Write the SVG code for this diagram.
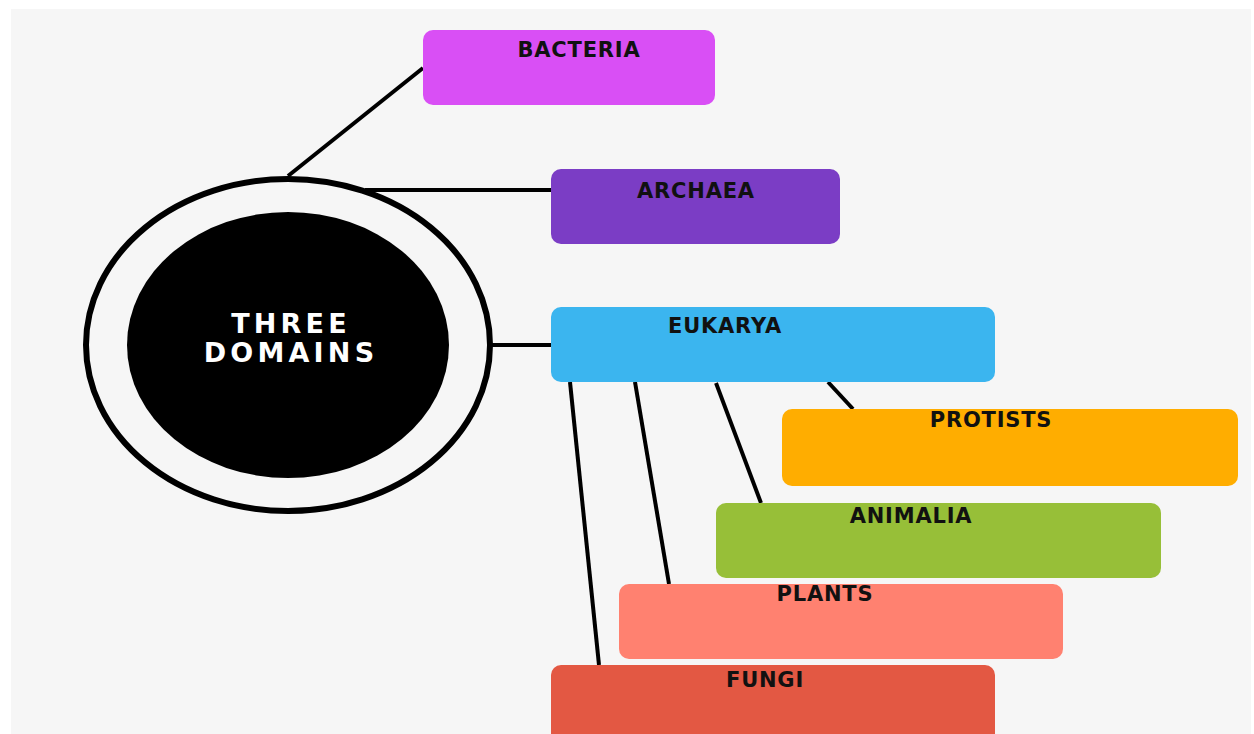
<svg xmlns="http://www.w3.org/2000/svg" width="1254" height="734" viewBox="0 0 1254 734">
<style>
.lbl{font-family:"DejaVu Sans","Liberation Sans",Arial,sans-serif;font-weight:bold;font-size:21px;letter-spacing:0.8px;fill:#111;text-anchor:middle}
.ttl{font-family:"DejaVu Sans","Liberation Sans",Arial,sans-serif;font-weight:bold;font-size:27px;letter-spacing:4.2px;fill:#fff;text-anchor:middle}
.ln{stroke:#000;stroke-width:4;fill:none;stroke-linecap:butt}
</style>
<rect x="0" y="0" width="1254" height="734" fill="#ffffff"/>
<rect x="11" y="9" width="1240" height="725" fill="#f6f6f6"/>
<g id="connectors">
<line class="ln" x1="288" y1="176" x2="423" y2="68"/>
<line class="ln" x1="365" y1="190" x2="551" y2="190"/>
<line class="ln" x1="492" y1="345" x2="551" y2="345"/>
<line class="ln" x1="828" y1="382" x2="853" y2="409"/>
<line class="ln" x1="716" y1="383" x2="761" y2="503"/>
<line class="ln" x1="635" y1="382" x2="669" y2="584"/>
<line class="ln" x1="570" y1="382" x2="599" y2="665"/>
</g>
<g id="three-domains">
<ellipse cx="288" cy="345" rx="202" ry="166" fill="#f6f6f6" stroke="#000" stroke-width="6"/>
<ellipse cx="288" cy="345" rx="161" ry="133" fill="#000"/>
<text class="ttl"><tspan x="291" y="333">THREE</tspan><tspan x="291" y="362">DOMAINS</tspan></text>
</g>
<g id="bacteria">
<rect x="423" y="30" width="292" height="75" rx="10" fill="#d94ff5"/>
<text class="lbl" x="579" y="57">BACTERIA</text>
</g>
<g id="archaea">
<rect x="551" y="169" width="289" height="75" rx="10" fill="#7b3dc5"/>
<text class="lbl" x="696" y="198">ARCHAEA</text>
</g>
<g id="eukarya">
<rect x="551" y="307" width="444" height="75" rx="10" fill="#3bb5ef"/>
<text class="lbl" x="725" y="333">EUKARYA</text>
</g>
<g id="protists">
<rect x="782" y="409" width="456" height="77" rx="10" fill="#ffad00"/>
<text class="lbl" x="991" y="427">PROTISTS</text>
</g>
<g id="animalia">
<rect x="716" y="503" width="445" height="75" rx="10" fill="#97bf38"/>
<text class="lbl" x="911" y="523">ANIMALIA</text>
</g>
<g id="plants">
<rect x="619" y="584" width="444" height="75" rx="10" fill="#ff8170"/>
<text class="lbl" x="825" y="601">PLANTS</text>
</g>
<g id="fungi">
<rect x="551" y="665" width="444" height="85" rx="10" fill="#e35843"/>
<text class="lbl" x="765" y="687">FUNGI</text>
</g>
</svg>
